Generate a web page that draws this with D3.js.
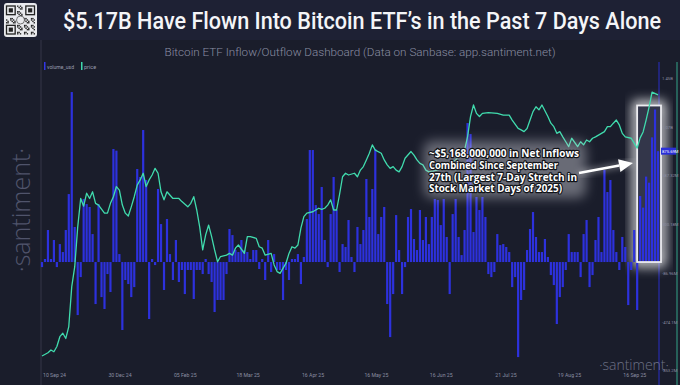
<!DOCTYPE html>
<html>
<head>
<meta charset="utf-8">
<script src="https://cdn.jsdelivr.net/npm/d3@7"></script>
<style>
html,body{margin:0;padding:0;background:#1a1d2b;}
svg{display:block;}
</style>
</head>
<body>
<svg id="chart" width="680" height="385"></svg>
<script>
// daily ETF net flows, $M (one bar per stock market day)
var volumes = [
 -40,24,253,24,174,-40,142,79,253,537,1343,277,-419,-119,498,458,435,221,-332,458,
 -277,-371,-95,-237,893,880,63,-537,-142,-174,-277,-198,735,672,1043,648,-450,24,-24,577,
 300,-221,340,63,-142,174,-158,-63,-253,-63,-63,-292,-63,-63,-95,24,-95,-158,-395,-300,
 -300,-300,-95,261,213,95,79,174,95,79,24,95,95,-55,24,-142,174,-79,63,-63,
 -63,-300,-63,-142,24,24,63,-174,40,340,885,885,450,379,593,174,-40,379,
 672,411,-79,142,119,332,40,-79,277,142,253,656,356,577,893,221,356,435,-332,-593,
 -253,371,95,-253,-40,356,419,182,95,411,174,356,142,356,498,490,292,498,198,-253,
 379,498,198,55,253,1098,1011,237,514,411,514,356,-95,-119,-79,221,134,142,119,79,
 -198,-119,-751,-300,-221,95,261,395,198,79,79,182,40,-103,-182,-490,-277,-198,-63,221,
 79,79,79,-119,221,332,-198,-103,174,356,79,
 727,553,648,253,79,-63,198,119,-340,-63,253,-379,
 522,430,675,627,985,1205,876
];

// BTC price, sampled at bar index
var priceIdx = [0,2,3,4,5,6,7,8,9,10,11,12,13,14,15,16,17,18,19,21,22,23,24,25,26,27,28,29,30,31,32,33,34,35,36,37,38,39,40,41,42,44,46,47,49,50,51,52,53,54,55,56,57,58,59,60,62,63,64,65,66,68,69,70,72,73,74,75,77,78,79,80,82,83,84,85,86,87,88,89,91,92,93,94,95,96,97,98,99,100,
 101,102,103,105,106,107,108,109,110,111,112,114,115,116,117,118,119,120,121,122,124,125,126,127,128,129,130,133,135,137,139,142,143,144,145,146,147,148,150,153,155,157,158,160,161,162,163,164,165,166,167,168,170,171,172,173,174,175,176,177,178,180,181,182,183,184,185,186,187,189,190,191,192,193,194,195,196,198,199,200,201,202,203,204,205,207];
var priceVal = [52300,53200,54000,53500,55000,57800,58800,57300,60700,72100,77800,89100,97300,95100,98800,97300,99200,95900,95400,93100,93100,95900,97800,100700,99700,95400,93100,92300,94900,97800,101100,102600,104500,100700,102600,104000,105900,104500,99200,96900,99200,97300,97300,96400,94900,95900,97800,94000,89100,82600,86900,89700,86400,82600,79200,80700,81100,81600,81100,83100,84000,81600,86400,86400,85900,83500,83100,81100,81600,78300,76400,75900,78800,81600,83500,83100,84000,88800,92100,93100,93500,94000,94500,94200,94500,95400,96900,94000,94000,98500,
 103500,104500,104000,104500,103500,105400,106400,108300,110200,112600,111100,110200,108300,106900,105900,106400,105400,104900,106400,108800,110700,109700,108300,107300,106900,105400,104900,105400,106400,107300,108300,111100,114900,120700,124000,121600,120700,121600,121800,121600,121100,121100,119700,117300,116900,116400,117300,119700,122100,123500,122600,124000,120700,118800,117800,115900,116400,114900,113500,112100,114500,112100,113500,112600,114000,113500,114500,114900,115400,116400,117800,117800,118800,119700,118300,115900,114900,114500,113100,111700,114600,116300,119700,123400,127700,126900];

var tickIdx = [0,22,44,65,87,108,130,152,173,195];
var tickLabels = ["10 Sep 24","30 Dec 24","05 Feb 25","18 Mar 25","16 Apr 25","16 May 25","16 Jun 25","21 Jul 25","19 Aug 25","16 Sep 25"];

var volTickVals = [1454,1067,687,300,-87,-474,-853];
var volTickLabels = ["1.45B","1.07B","687.32M","300.18M","-86.96M","-474.1M","-853.2M"];
var lastLabel = "875.69M";

var titleText = "$5.17B Have Flown Into Bitcoin ETF\u2019s in the Past 7 Days Alone";
var subText = "Bitcoin ETF Inflow/Outflow Dashboard (Data on Sanbase: app.santiment.net)";
var noteLines = ["~$5,168,000,000 in Net Inflows","Combined Since September","27th (Largest 7-Day Stretch in","Stock Market Days of 2025)"];
var noteWidths = [150,129,148,133];

var svg = d3.select("#chart");
var W = 680, H = 385;

var defs = svg.append("defs");
defs.append("filter").attr("id","blur6").attr("x","-50%").attr("y","-50%").attr("width","200%").attr("height","200%")
    .append("feGaussianBlur").attr("stdDeviation",6);
defs.append("filter").attr("id","blur3").attr("x","-50%").attr("y","-50%").attr("width","200%").attr("height","200%")
    .append("feGaussianBlur").attr("stdDeviation",3);

svg.append("rect").attr("width",W).attr("height",H).style("fill","#1a1d2b");
svg.append("rect").attr("width",W).attr("height",40).style("fill","#1e2134");

// qr code badge
var qr = svg.append("g").attr("transform","translate(4,3)");
qr.append("rect").attr("width",33).attr("height",34).attr("rx",3).style("fill","#e9eaee");
var cell = 29/21;
for (var i = 0; i < 21; i++) {
  for (var j = 0; j < 21; j++) {
    var inFinder = (i < 8 && j < 8) || (i > 12 && j < 8) || (i < 8 && j > 12);
    if (inFinder) continue;
    if (((i * 7 + j * 13 + i * j) % 5) < 2) {
      qr.append("rect").attr("x",2+i*cell).attr("y",2.5+j*cell).attr("width",cell).attr("height",cell).style("fill","#222");
    }
  }
}
[[0,0],[14,0],[0,14]].forEach(function(p){
  qr.append("rect").attr("x",2+p[0]*cell+0.5).attr("y",2.5+p[1]*cell+0.5).attr("width",7*cell-1).attr("height",7*cell-1)
    .style("fill","none").style("stroke","#222").style("stroke-width",1.3);
  qr.append("rect").attr("x",2+(p[0]+2)*cell).attr("y",2.5+(p[1]+2)*cell).attr("width",3*cell).attr("height",3*cell).style("fill","#222");
});
qr.append("circle").attr("cx",16.5).attr("cy",17).attr("r",4).style("fill","#e9eaee").style("stroke","#555").style("stroke-width",0.8);

svg.append("text").attr("x",362).attr("y",29).attr("text-anchor","middle")
   .attr("textLength",598).attr("lengthAdjust","spacingAndGlyphs")
   .style("font-family","Roboto, 'Noto Sans', sans-serif").style("font-weight",500)
   .style("font-size","23px").style("fill","#f4f5f8").text(titleText);

svg.append("text").attr("x",360).attr("y",56).attr("text-anchor","middle")
   .attr("textLength",391).attr("lengthAdjust","spacingAndGlyphs")
   .style("font-family","Roboto, sans-serif").style("font-weight",300)
   .style("font-size","11px").style("fill","#8a8ea3").text(subText);

// watermarks
svg.append("text").attr("transform","translate(30,210) rotate(-90)").attr("text-anchor","middle")
   .style("font-family","'Open Sans', sans-serif").style("font-weight",300)
   .style("font-size","25px").style("fill","#50546b").text("\u00b7santiment\u00b7");

// axes lines
svg.append("line").attr("x1",41).attr("x2",41).attr("y1",40).attr("y2",H).style("stroke","#343749").style("stroke-width",1);
svg.append("line").attr("x1",659).attr("x2",659).attr("y1",62).attr("y2",H).style("stroke","#2a2fcf").style("stroke-width",1.2).style("opacity",0.8);
svg.append("line").attr("x1",677).attr("x2",677).attr("y1",62).attr("y2",H).style("stroke","#2f8f7a").style("stroke-width",1.2);

// legend
svg.append("rect").attr("x",44).attr("y",62).attr("width",1.5).attr("height",8).style("fill","#3236e6");
svg.append("text").attr("x",47).attr("y",68.5).attr("textLength",27).attr("lengthAdjust","spacingAndGlyphs")
   .style("font-family","Roboto, sans-serif").style("font-size","5.5px").style("fill","#9a9eb0").text("volume_usd");
svg.append("rect").attr("x",81).attr("y",62).attr("width",1.5).attr("height",8).style("fill","#3fd9ad");
svg.append("text").attr("x",84).attr("y",68.5).style("font-family","Roboto, sans-serif").style("font-size","5.5px").style("fill","#9a9eb0").text("price");

var N = volumes.length;
var x = d3.scaleLinear().domain([0, N - 1]).range([42, 658]);
var yV = d3.scaleLinear().domain([-853, 1454]).range([370, 78]);
var yP = d3.scaleLinear().domain([50000, 130000]).range([364, 84]);

// highlight box behind last week's bars
var boxX0 = x(N - 7) - 3, boxX1 = x(N - 1) + 3;
var boxY0 = yV(1205) - 4, boxY1 = yV(0);
svg.append("rect").attr("x",boxX0).attr("y",boxY0).attr("width",boxX1-boxX0).attr("height",boxY1-boxY0)
   .style("fill","none").style("stroke","#ffffff").style("stroke-width",9).style("opacity",0.9).attr("filter","url(#blur6)");
svg.append("rect").attr("x",boxX0).attr("y",boxY0).attr("width",boxX1-boxX0).attr("height",boxY1-boxY0)
   .style("fill","#33364a");

// bars
svg.append("g").selectAll("rect").data(volumes).enter().append("rect")
   .attr("x", function(d, i){ return x(i) - 1.1; })
   .attr("width", 2.2)
   .attr("y", function(d){ return d >= 0 ? yV(d) : yV(0); })
   .attr("height", function(d){ return Math.max(0.6, Math.abs(yV(d) - yV(0))); })
   .style("fill","#2d31dd");

svg.append("rect").attr("x",boxX0).attr("y",boxY0).attr("width",boxX1-boxX0).attr("height",boxY1-boxY0)
   .style("fill","none").style("stroke","#ececf0").style("stroke-width",1.8);

// price line
var line = d3.line().x(function(d){ return x(d[0]); }).y(function(d){ return yP(d[1]); });
var pricePts = priceIdx.map(function(d, i){ return [d, priceVal[i]]; });
svg.append("path").datum(pricePts).attr("d", line)
   .style("fill","none").style("stroke","#40dcae").style("stroke-width",1.3).style("stroke-linejoin","round");

// right axis labels
svg.append("g").selectAll("text").data(volTickVals).enter().append("text")
   .attr("x",662).attr("y",function(d){ return yV(d) + 1.6; })
   .style("font-family","Roboto, sans-serif").style("font-size","4.2px").style("fill","#8a8ea2")
   .text(function(d, i){ return volTickLabels[i]; });
var lastY = yV(volumes[N - 1]);
svg.append("rect").attr("x",661).attr("y",lastY - 3.5).attr("width",15).attr("height",7).style("fill","#2a2fd8");
svg.append("text").attr("x",662).attr("y",lastY + 1.6)
   .style("font-family","Roboto, sans-serif").style("font-size","4.2px").style("fill","#ffffff").text(lastLabel);

// x axis labels
svg.append("g").selectAll("text").data(tickIdx).enter().append("text")
   .attr("x",function(d){ return x(d) + 1; }).attr("y",377)
   .style("font-family","Roboto, sans-serif").style("font-size","5.2px").style("fill","#8a8ea2")
   .text(function(d, i){ return tickLabels[i]; });

svg.append("text").attr("x",634).attr("y",370).attr("text-anchor","middle")
   .style("font-family","'Open Sans', sans-serif").style("font-weight",300)
   .style("font-size","14px").style("fill","#6d7186").text("\u00b7santiment\u00b7");

// annotation
var note = svg.append("g");
note.append("rect").attr("x",424).attr("y",141).attr("width",162).attr("height",57).attr("rx",8)
    .style("fill","#c9cad2").style("opacity",0.45).attr("filter","url(#blur6)");
noteLines.forEach(function(t, i){
  note.append("text").attr("x",429).attr("y",157 + i * 11.8)
      .attr("textLength",noteWidths[i]).attr("lengthAdjust","spacingAndGlyphs")
      .style("font-family","'Open Sans', sans-serif").style("font-weight",700).style("font-size","10.6px")
      .style("fill","#ffffff").style("stroke","#111318").style("stroke-width",2.4)
      .style("paint-order","stroke").style("stroke-linejoin","round").text(t);
});

// arrow
var ax0 = 579, ay0 = 173, ax1 = 633, ay1 = 163;
var ang = Math.atan2(ay1 - ay0, ax1 - ax0);
var hl = 14, hw = 6.5;
var bx = ax1 - hl * Math.cos(ang), by = ay1 - hl * Math.sin(ang);
var head = [[ax1, ay1],
            [bx + hw * Math.sin(ang), by - hw * Math.cos(ang)],
            [bx - hw * Math.sin(ang), by + hw * Math.cos(ang)]];
svg.append("line").attr("x1",ax0).attr("y1",ay0).attr("x2",ax1).attr("y2",ay1)
   .style("stroke","#ffffff").style("stroke-width",5).style("opacity",0.35).attr("filter","url(#blur3)");
svg.append("line").attr("x1",ax0).attr("y1",ay0).attr("x2",bx).attr("y2",by)
   .style("stroke","#ffffff").style("stroke-width",2.6);
svg.append("path").attr("d","M" + head.join("L") + "Z").style("fill","#ffffff");
</script>
</body>
</html>
